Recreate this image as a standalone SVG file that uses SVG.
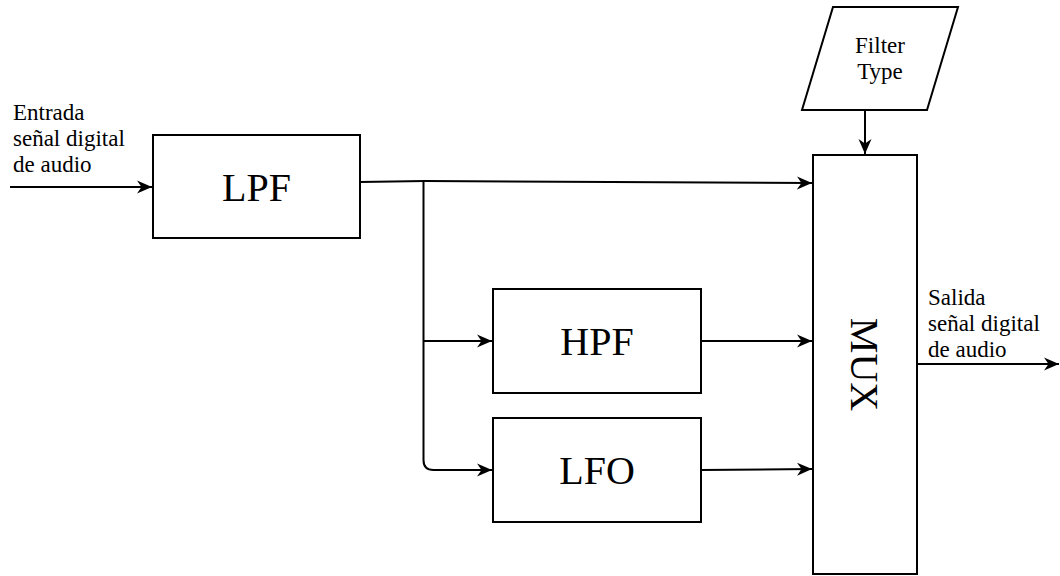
<svg xmlns="http://www.w3.org/2000/svg" width="1060" height="576" viewBox="0 0 1060 576">
<style>
.box{fill:#fff;stroke:#000;stroke-width:2}
.lbl{font-family:"Liberation Serif","Times New Roman",serif;fill:#000}
.big{font-size:40px;text-anchor:middle}
.sm{font-size:23px}
.edge{fill:none;stroke:#000;stroke-width:2}
</style>
<defs>
<marker id="arr" markerWidth="17" markerHeight="15" refX="15" refY="7.5" orient="auto" markerUnits="userSpaceOnUse">
<path d="M0,1 L15,7.5 L0,14 L4.5,7.5 z" fill="#000"/>
</marker>
</defs>
<rect width="1060" height="576" fill="#fff"/>
<g id="connectors">
<path class="edge" d="M10,187 L152,187" marker-end="url(#arr)"/>
<path class="edge" d="M360,182 L425,181 L812,183" marker-end="url(#arr)"/>
<path class="edge" d="M423.5,181 L423.5,460 Q423.5,470 433.5,470 L492,470" marker-end="url(#arr)"/>
<path class="edge" d="M423.5,341 L492,341" marker-end="url(#arr)"/>
<path class="edge" d="M701,341 L812,341" marker-end="url(#arr)"/>
<path class="edge" d="M701,470 L812,469" marker-end="url(#arr)"/>
<path class="edge" d="M865,110 L865,154" marker-end="url(#arr)"/>
<path class="edge" d="M917,364 L1059,364" marker-end="url(#arr)"/>
</g>
<g id="input-label">
<text class="lbl sm" x="13" y="120">Entrada</text>
<text class="lbl sm" x="13" y="146">señal digital</text>
<text class="lbl sm" x="13" y="172">de audio</text>
</g>
<g id="output-label">
<text class="lbl sm" x="928" y="305">Salida</text>
<text class="lbl sm" x="928" y="331">señal digital</text>
<text class="lbl sm" x="928" y="357">de audio</text>
</g>
<g id="lpf">
<rect class="box" x="153" y="135" width="207" height="103"/>
<text class="lbl big" x="256.5" y="200.5">LPF</text>
</g>
<g id="hpf">
<rect class="box" x="493" y="289" width="208" height="104"/>
<text class="lbl big" x="597" y="355">HPF</text>
</g>
<g id="lfo">
<rect class="box" x="493" y="418" width="208" height="104"/>
<text class="lbl big" x="597" y="484">LFO</text>
</g>
<g id="mux">
<rect class="box" x="813" y="155" width="104" height="419"/>
<text class="lbl big" transform="translate(865,364.5) rotate(90)" x="0" y="14">MUX</text>
</g>
<g id="filter-type">
<polygon class="box" points="833,7 958,7 927,110 802,110"/>
<text class="lbl sm" x="880" y="53" text-anchor="middle">Filter</text>
<text class="lbl sm" x="880" y="79" text-anchor="middle">Type</text>
</g>
</svg>
